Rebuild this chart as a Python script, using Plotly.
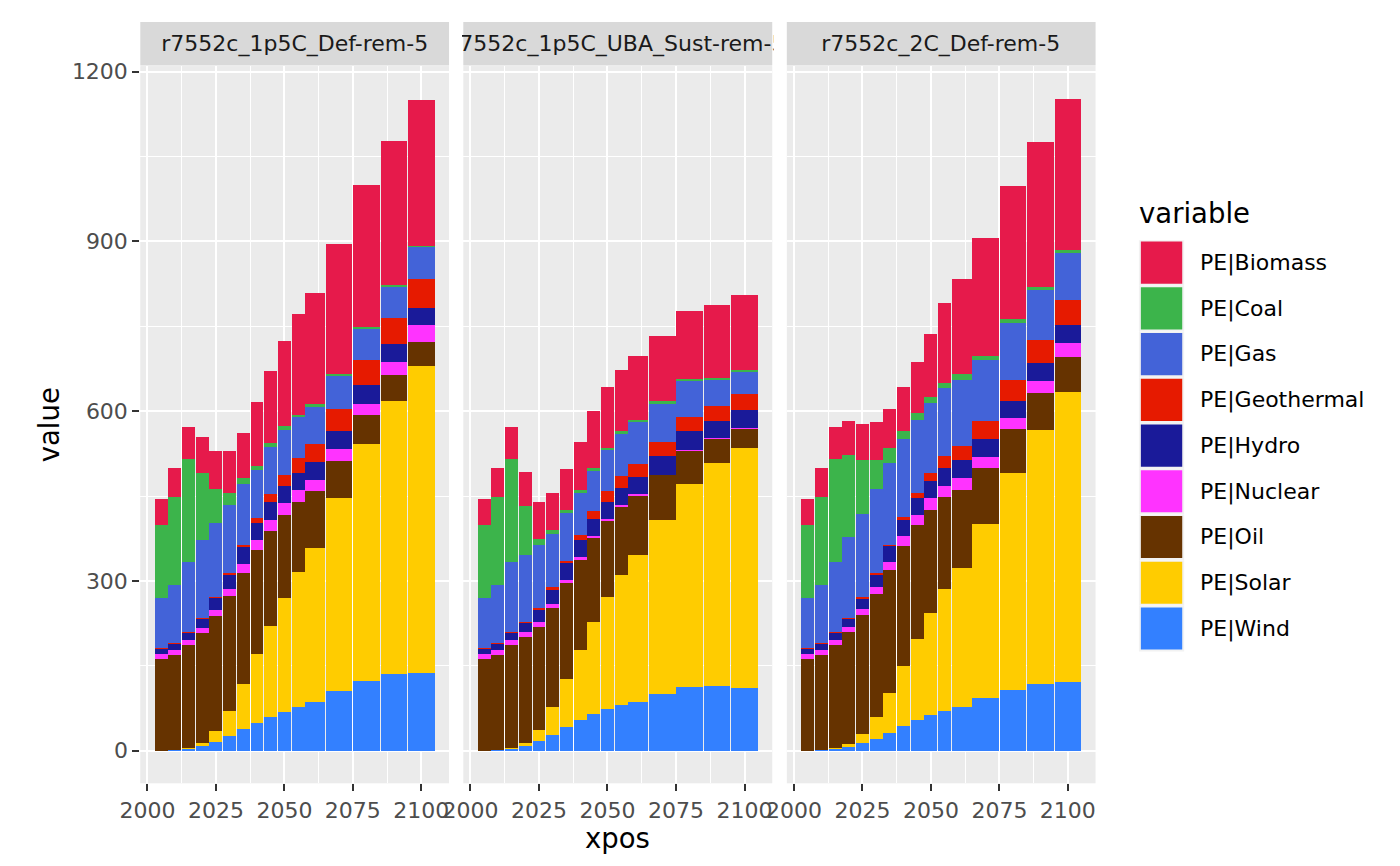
import plotly.graph_objects as go

# Time steps of the model (bar widths follow the step lengths)
years = [2005, 2010, 2015, 2020, 2025, 2030, 2035, 2040, 2045, 2050, 2055, 2060, 2070, 2080, 2090, 2100]

scenarios = ["r7552c_1p5C_Def-rem-5", "r7552c_1p5C_UBA_Sust-rem-5", "r7552c_2C_Def-rem-5"]

variables = ["PE|Biomass", "PE|Coal", "PE|Gas", "PE|Geothermal", "PE|Hydro",
             "PE|Nuclear", "PE|Oil", "PE|Solar", "PE|Wind"]

colors = ["#E61A4B", "#3CB44B", "#4363D8", "#E61A00", "#1A1A99",
          "#FF33FF", "#663300", "#FFCC00", "#3380FF"]

# r7552c_1p5C_Def-rem-5
wind_def15 = [0, 2, 4, 9, 16, 26, 38, 49, 59, 68, 77, 86, 105, 124, 136, 138]
solar_def15 = [0, 0, 1, 5, 19, 45, 80, 122, 162, 201, 238, 272, 341, 418, 482, 542]
oil_def15 = [162, 167, 182, 194, 203, 203, 196, 184, 168, 147, 124, 100, 66, 52, 46, 42]
nuclear_def15 = [9, 9, 9, 9, 10, 12, 16, 17, 19, 21, 21, 21, 21, 19, 23, 30]
hydro_def15 = [10, 11, 13, 17, 22, 26, 30, 31, 31, 31, 31, 31, 31, 33, 31, 31]
geo_def15 = [0.5, 1, 1, 0.5, 2, 2, 4, 9, 14, 19, 26, 32, 40, 44, 47, 51]
gas_def15 = [88, 102, 124, 137, 131, 121, 108, 84, 84, 79, 72, 66, 58, 56, 55, 56]
coal_def15 = [130, 157, 182, 120, 59, 21, 10, 7, 7, 7, 5, 5, 3, 3, 3, 1]
biomass_def15 = [46, 51, 56, 63, 68, 73, 80, 113, 127, 151, 177, 196, 230, 250, 255, 258]

# r7552c_1p5C_UBA_Sust-rem-5
wind_uba = [0, 2, 4, 9, 17, 28, 42, 54, 65, 73, 80, 86, 101, 112, 115, 110]
solar_uba = [0, 0, 1, 5, 19, 49, 84, 124, 162, 199, 231, 259, 306, 360, 393, 425]
oil_uba = [162, 167, 182, 187, 182, 175, 170, 159, 148, 135, 121, 106, 80, 59, 43, 34]
nuclear_uba = [9, 9, 9, 9, 9, 7, 5, 5, 4, 2, 2, 2, 1, 1, 1, 1]
hydro_uba = [10, 11, 13, 17, 23, 26, 30, 30, 31, 31, 31, 31, 33, 32, 31, 32]
geo_uba = [0.5, 1, 1, 1, 2, 3.5, 5, 9, 14, 18, 21, 23, 25, 25, 26, 28]
gas_uba = [88, 102, 124, 118, 112, 94, 84, 75, 70, 73, 74, 73, 68, 65, 47, 40]
coal_uba = [130, 157, 182, 86, 10, 7, 5, 5, 5, 4, 4, 4, 3, 3, 3, 2]
biomass_uba = [46, 51, 56, 61, 65, 66, 72, 84, 101, 108, 109, 113, 116, 120, 128, 134]

# r7552c_2C_Def-rem-5
wind_def2 = [0, 2, 4, 7, 14, 21, 32, 44, 54, 63, 70, 77, 93, 107, 117, 121]
solar_def2 = [0, 0, 1, 5, 16, 38, 70, 105, 143, 180, 215, 246, 307, 384, 449, 512]
oil_def2 = [162, 167, 182, 197, 210, 218, 218, 213, 201, 182, 163, 138, 100, 77, 66, 63]
nuclear_def2 = [9, 9, 9, 9, 10, 12, 14, 18, 18, 21, 19, 21, 19, 19, 21, 25]
hydro_def2 = [10, 11, 13, 16, 19, 23, 28, 28, 31, 31, 32, 31, 31, 31, 32, 31]
geo_def2 = [0.5, 1, 1, 1, 2, 2, 2, 5, 9, 14, 21, 26, 33, 37, 40, 44]
gas_def2 = [88, 102, 124, 142, 147, 148, 145, 138, 128, 123, 120, 116, 108, 100, 89, 84]
coal_def2 = [130, 157, 182, 145, 96, 51, 25, 14, 12, 11, 10, 10, 7, 7, 5, 4]
biomass_def2 = [46, 51, 56, 61, 63, 68, 69, 77, 91, 112, 141, 169, 207, 236, 257, 268]

# same order as "variables"
panel_data = [
    [biomass_def15, coal_def15, gas_def15, geo_def15, hydro_def15, nuclear_def15, oil_def15, solar_def15, wind_def15],
    [biomass_uba, coal_uba, gas_uba, geo_uba, hydro_uba, nuclear_uba, oil_uba, solar_uba, wind_uba],
    [biomass_def2, coal_def2, gas_def2, geo_def2, hydro_def2, nuclear_def2, oil_def2, solar_def2, wind_def2],
]

# page has an 8px body margin, so the figure is 16px smaller than the window
OFF = 8
W, H = 1400 - 2 * OFF, 866 - 2 * OFF


def px(x):
    return (x - OFF) / W


def py(y):
    return 1 - (y - OFF) / H


# bar edges halfway between time steps -> xpos and width
lefts, rights = [], []
for i, yr in enumerate(years):
    if i == 0:
        lefts.append(yr - (years[1] - years[0]) / 2)
    else:
        lefts.append((years[i - 1] + yr) / 2)
    if i == len(years) - 1:
        rights.append(yr + (yr - years[i - 1]) / 2)
    else:
        rights.append((yr + years[i + 1]) / 2)
xpos = [(l + r) / 2 for l, r in zip(lefts, rights)]
widths = [(r - l) - 0.3 for l, r in zip(lefts, rights)]

x_lo, x_hi = lefts[0], rights[-1]
x_pad = (x_hi - x_lo) * 0.05
ymax = max(max(sum(v[i] for v in pd_) for i in range(len(years))) for pd_ in panel_data)

panel_px = [(121, 434.5), (449, 762.7), (777.5, 1091)]
top_px, bottom_px = 59.5, 782.7

fig = go.Figure()

for k, series in enumerate(panel_data):
    xa = "x" if k == 0 else "x%d" % (k + 1)
    # stack from the bottom: Wind first, Biomass last
    for j in range(len(variables) - 1, -1, -1):
        fig.add_trace(go.Bar(x=xpos, y=series[j], width=widths, xaxis=xa, yaxis="y",
                             marker=dict(color=colors[j], line=dict(width=0)),
                             name=variables[j], showlegend=False))

grid = dict(showgrid=True, gridcolor="white", gridwidth=2, zeroline=False, showline=False,
            ticks="outside", ticklen=7, tickwidth=1.5, tickcolor="#333333",
            tickfont=dict(family="DejaVu Sans", size=22, color="#4D4D4D"))
minor_x = dict(dtick=12.5, tick0=2000, showgrid=True, gridcolor="white", gridwidth=1, ticks="")
minor_y = dict(dtick=150, tick0=0, showgrid=True, gridcolor="white", gridwidth=1, ticks="")

layout_axes = {}
for k, (l, r) in enumerate(panel_px):
    name = "xaxis" if k == 0 else "xaxis%d" % (k + 1)
    layout_axes[name] = dict(grid, domain=[px(l), px(r)], range=[x_lo - x_pad, x_hi + x_pad],
                             tickvals=[2000, 2025, 2050, 2075, 2100], minor=minor_x, anchor="y")

layout_axes["yaxis"] = dict(grid, domain=[py(bottom_px), py(top_px)], range=[-0.05 * ymax, 1.05 * ymax],
                            tickvals=[0, 300, 600, 900, 1200], minor=minor_y, anchor="x")

shapes = []
annotations = []

# facet strips
for k, (l, r) in enumerate(panel_px):
    shapes.append(dict(type="rect", xref="paper", yref="paper", x0=px(l), x1=px(r),
                       y0=py(59), y1=py(15), fillcolor="#D9D9D9", line=dict(width=0), layer="above"))
    annotations.append(dict(text=scenarios[k], xref="paper", yref="paper", x=px((l + r) / 2), y=py(37),
                            xanchor="center", yanchor="middle", showarrow=False, width=r - l - 2, height=40,
                            borderpad=0, font=dict(family="DejaVu Sans", size=22, color="#1A1A1A")))

# axis titles
annotations.append(dict(text="xpos", xref="paper", yref="paper", x=px(606), y=py(838),
                        xanchor="center", yanchor="middle", showarrow=False,
                        font=dict(family="DejaVu Sans", size=27.5, color="black")))
annotations.append(dict(text="value", xref="paper", yref="paper", x=px(28), y=py(421),
                        xanchor="center", yanchor="middle", showarrow=False, textangle=-90,
                        font=dict(family="DejaVu Sans", size=27.5, color="black")))

# legend drawn like ggplot keys
annotations.append(dict(text="variable", xref="paper", yref="paper", x=px(1133), y=py(208),
                        xanchor="left", yanchor="middle", showarrow=False,
                        font=dict(family="DejaVu Sans", size=27.5, color="black")))
for i, var in enumerate(variables):
    top = 235 + 46.1 * i
    shapes.append(dict(type="rect", xref="paper", yref="paper", x0=px(1135), x1=px(1181),
                       y0=py(top + 46), y1=py(top), fillcolor="#F2F2F2", line=dict(width=0)))
    shapes.append(dict(type="rect", xref="paper", yref="paper", x0=px(1137), x1=px(1179),
                       y0=py(top + 44), y1=py(top + 1.5), fillcolor=colors[i], line=dict(width=0)))
    annotations.append(dict(text=var, xref="paper", yref="paper", x=px(1195), y=py(top + 23),
                            xanchor="left", yanchor="middle", showarrow=False,
                            font=dict(family="DejaVu Sans", size=22, color="black")))

fig.update_layout(
    width=W, height=H,
    margin=dict(l=0, r=0, t=0, b=0),
    barmode="stack",
    plot_bgcolor="#EBEBEB",
    paper_bgcolor="white",
    font=dict(family="DejaVu Sans"),
    showlegend=False,
    shapes=shapes,
    annotations=annotations,
    **layout_axes
)

fig.write_html("out.html")
